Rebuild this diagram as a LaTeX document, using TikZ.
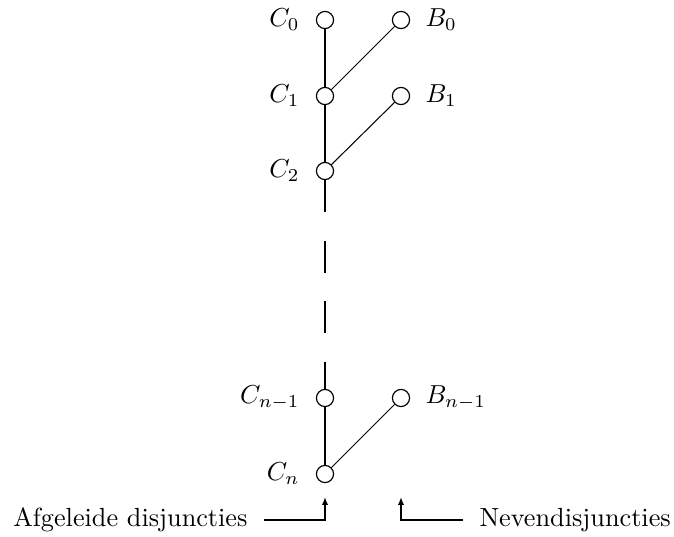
\documentclass[tikz,border=0pt]{standalone}
\usetikzlibrary{arrows.meta}
\begin{document}
\begin{tikzpicture}[x=0.385pt,y=-0.385pt,
  every node/.style={font=\fontsize{10.1pt}{12pt}\selectfont},
  vtx/.style={circle,draw,line width=0.45pt,minimum size=6.6pt,inner sep=0pt,fill=white},
  lbl/.style={inner sep=0pt},
  spine/.style={line width=0.8pt},
  branch/.style={line width=0.4pt},
  pointer/.style={line width=0.8pt,-{Latex[length=3pt,width=2.4pt]}}]
\useasboundingbox (0,0) rectangle (674,537);
% C nodes
\node[vtx] (C0) at (325,20) {};
\node[vtx] (C1) at (325,96) {};
\node[vtx] (C2) at (325,171) {};
\node[vtx] (Cm) at (325,398) {};
\node[vtx] (Cn) at (325,474) {};
% B nodes
\node[vtx] (B0) at (401,20) {};
\node[vtx] (B1) at (401,96) {};
\node[vtx] (Bm) at (401,398) {};
% labels
\node[lbl,anchor=east] (lC0) at (300,20) {$C_0$};
\node[lbl,anchor=east] (lC1) at (300,96) {$C_1$};
\node[lbl,anchor=east] (lC2) at (300,171) {$C_2$};
\node[lbl,anchor=east] (lCm) at (300,398) {$C_{n-1}$};
\node[lbl,anchor=east] (lCn) at (300,474) {$C_n$};
\node[lbl,anchor=west] (lB0) at (425,20) {$B_0$};
\node[lbl,anchor=west] (lB1) at (425,96) {$B_1$};
\node[lbl,anchor=west] (lBm) at (425,398) {$B_{n-1}$};
% spine
\draw[spine] (C0) -- (C1) -- (C2);
\draw[spine,dash pattern=on 12.3pt off 11pt] (C2) -- (Cm);
\draw[spine] (Cm) -- (Cn);
% branches
\draw[branch] (C1) -- (B0);
\draw[branch] (C2) -- (B1);
\draw[branch] (Cn) -- (Bm);
% bottom pointers
\node[lbl,anchor=east] (afg) at (248,520) {Afgeleide disjuncties};
\node[lbl,anchor=west] (nev) at (479,520) {Nevendisjuncties};
\coordinate (pa) at (325,497);
\coordinate (pb) at (401,497);
\draw[pointer] (264,520) -| (pa);
\draw[pointer] (463,520) -| (pb);
\end{tikzpicture}
\end{document}
